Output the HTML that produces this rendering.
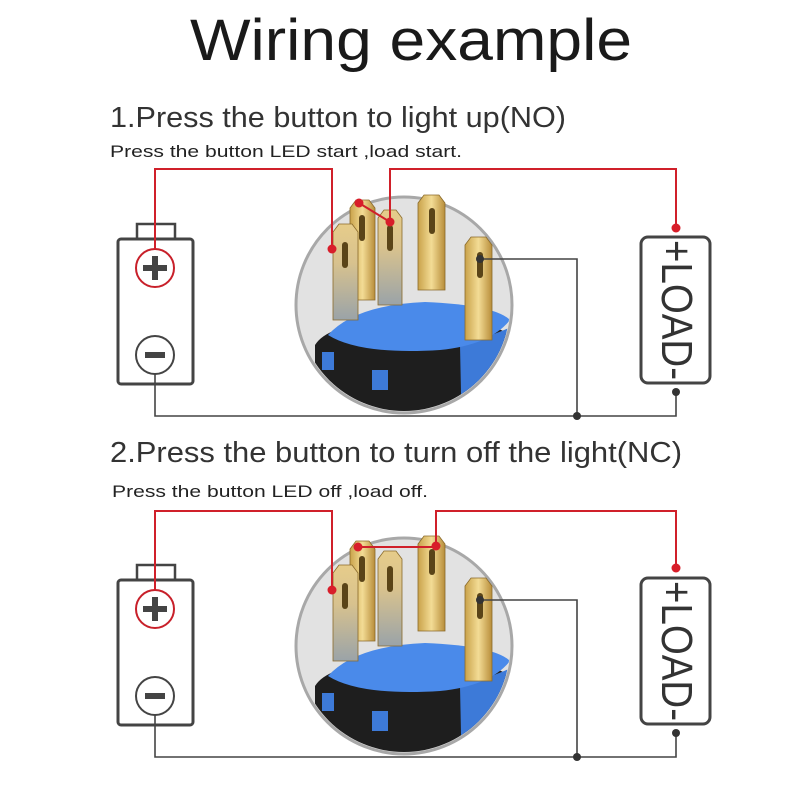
<!DOCTYPE html>
<html><head><meta charset="utf-8"><style>html,body{margin:0;padding:0;background:#fff}svg{display:block}</style></head>
<body>
<svg width="800" height="800" viewBox="0 0 800 800" xmlns="http://www.w3.org/2000/svg" font-family="Liberation Sans, sans-serif">
<defs>
<clipPath id="cc"><circle cx="404" cy="305" r="106"/></clipPath>
<linearGradient id="gold" x1="0" x2="1" y1="0" y2="0">
<stop offset="0" stop-color="#c9a24a"/><stop offset="0.5" stop-color="#f3dc95"/><stop offset="1" stop-color="#b88d3a"/></linearGradient>
<linearGradient id="silver" x1="0" x2="0" y1="0" y2="1">
<stop offset="0" stop-color="#e6cc8a"/><stop offset="0.4" stop-color="#d8c28e"/><stop offset="1" stop-color="#9aa3a8"/></linearGradient>
</defs>
<rect width="800" height="800" fill="#fff"/>
<text x="190" y="60" font-size="58" fill="#1a1a1a" textLength="442" lengthAdjust="spacingAndGlyphs">Wiring example</text>

<text x="110" y="127" font-size="29" fill="#333" textLength="456" lengthAdjust="spacingAndGlyphs">1.Press the button to light up(NO)</text>
<text x="110" y="157" font-size="17" fill="#222" textLength="352" lengthAdjust="spacingAndGlyphs">Press the button LED start ,load start.</text>
<text x="110" y="462" font-size="29" fill="#333" textLength="572" lengthAdjust="spacingAndGlyphs">2.Press the button to turn off the light(NC)</text>
<text x="112" y="497" font-size="17" fill="#222" textLength="316" lengthAdjust="spacingAndGlyphs">Press the button LED off ,load off.</text>

<g id="panel">
 <rect x="137" y="224" width="38" height="16" fill="#fff" stroke="#444" stroke-width="2.5"/>
 <rect x="118" y="239" width="75" height="145" rx="3" fill="#fff" stroke="#444" stroke-width="3"/>
 <circle cx="155" cy="268" r="19" fill="#fff" stroke="#c8202a" stroke-width="2"/>
 <rect x="143" y="265" width="24" height="6" fill="#444"/><rect x="152" y="256" width="6" height="24" fill="#444"/>
 <circle cx="155" cy="355" r="19" fill="#fff" stroke="#444" stroke-width="2"/>
 <rect x="145" y="352" width="20" height="6" fill="#444"/>
 <rect x="641" y="237" width="69" height="146" rx="7" fill="#fff" stroke="#444" stroke-width="3"/>
 <text transform="translate(662,240) rotate(90)" font-size="44" fill="#333" textLength="140" lengthAdjust="spacingAndGlyphs">+LOAD-</text>
 <circle cx="404" cy="305" r="108" fill="#e2e2e2" stroke="#a8a8a8" stroke-width="3"/>
 <g clip-path="url(#cc)">
  <path d="M315 345 Q330 320 420 318 Q500 320 515 340 L515 440 L315 440 Z" fill="#1e1e1e"/>
  <path d="M460 345 Q495 335 515 325 L515 440 L462 440 Z" fill="#3d7ad8"/>
  <path d="M328 335 Q355 305 425 302 Q495 305 510 320 Q490 345 440 350 Q360 355 328 335Z" fill="#4a8aea"/>
  <rect x="322" y="352" width="12" height="18" fill="#3d7ad8"/>
  <rect x="372" y="370" width="16" height="20" fill="#3d7ad8"/>
 </g>
 <g stroke="#8a6a2a" stroke-width="0.8">
  <path d="M350 300 L350 208 L356 200 L369 200 L375 208 L375 300Z" fill="url(#gold)"/>
  <path d="M333 320 L333 232 L339 224 L352 224 L358 232 L358 320Z" fill="url(#silver)"/>
  <path d="M378 305 L378 218 L384 210 L396 210 L402 218 L402 305Z" fill="url(#silver)"/>
  <path d="M418 290 L418 203 L424 195 L439 195 L445 203 L445 290Z" fill="url(#gold)"/>
  <path d="M465 340 L465 245 L471 237 L486 237 L492 245 L492 340Z" fill="url(#gold)"/>
 </g>
 <g fill="#5a4418">
  <rect x="342" y="242" width="6" height="26" rx="3"/>
  <rect x="359" y="215" width="6" height="26" rx="3"/>
  <rect x="387" y="225" width="6" height="26" rx="3"/>
  <rect x="429" y="208" width="6" height="26" rx="3"/>
  <rect x="477" y="252" width="6" height="26" rx="3"/>
 </g>
 <g stroke="#444" stroke-width="1.6" fill="none">
  <polyline points="480,259 577,259 577,416"/>
  <polyline points="155,374 155,416 676,416 676,392"/>
 </g>
 <circle cx="480" cy="259" r="4" fill="#333"/>
 <circle cx="577" cy="416" r="4" fill="#333"/>
 <circle cx="676" cy="392" r="4" fill="#333"/>
</g>

<use href="#panel" transform="translate(0,341)"/>

<g stroke="#d0202a" stroke-width="2" fill="none">
 <polyline points="155,249 155,169 332,169 332,249"/>
 <polyline points="390,224 390,169 676,169 676,228"/>
 <line x1="359" y1="203" x2="390" y2="222"/>
 <polyline points="155,590 155,511 332,511 332,590"/>
 <polyline points="436,546 436,511 676,511 676,568"/>
 <line x1="358" y1="547" x2="436" y2="547"/>
</g>
<g fill="#d81e2a">
 <circle cx="332" cy="249" r="4.5"/><circle cx="359" cy="203" r="4.5"/><circle cx="390" cy="222" r="4.5"/><circle cx="676" cy="228" r="4.5"/>
 <circle cx="332" cy="590" r="4.5"/><circle cx="358" cy="547" r="4.5"/><circle cx="436" cy="546" r="4.5"/><circle cx="676" cy="568" r="4.5"/>
</g>
</svg>
</body></html>
